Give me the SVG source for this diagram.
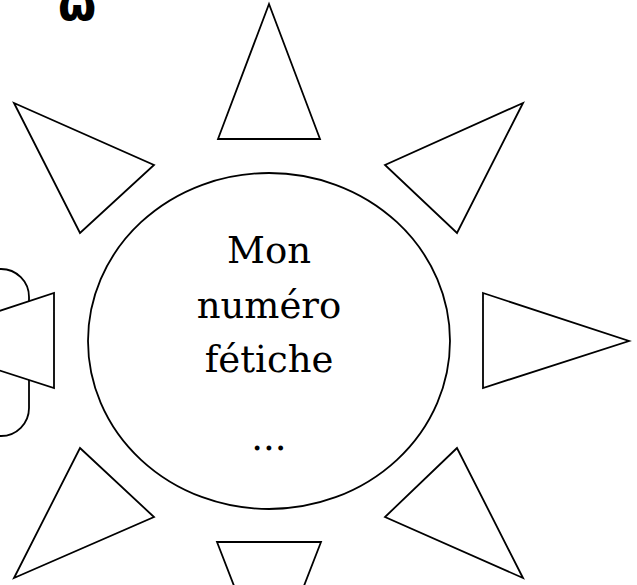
<svg xmlns="http://www.w3.org/2000/svg" width="637" height="585" viewBox="0 0 637 585">
<style>
.s{fill:#fff;stroke:#000;stroke-width:1.8;stroke-linejoin:miter}
.t{font-family:"DejaVu Serif",serif;font-size:37px;fill:#000;text-anchor:middle}
</style>
<rect width="637" height="585" fill="#fff"/>
<text x="77" y="20" font-family="DejaVu Sans" font-weight="bold" font-size="44" text-anchor="middle">ω</text>
<g id="left-box"><rect class="s" x="-60" y="269" width="89" height="167" rx="28"/></g>
<g id="tri-top"><polygon class="s" points="269,4 218,139 320,139"/></g>
<g id="tri-tl"><polygon class="s" points="14,103 154,165 80,233"/></g>
<g id="tri-tr"><polygon class="s" points="523,103 385,165 457,233"/></g>
<g id="tri-left"><polygon class="s" points="54,293 54,388 -92,341"/></g>
<g id="tri-right"><polygon class="s" points="483,293 629,341 483,388"/></g>
<g id="tri-bl"><polygon class="s" points="80,448 154,517 14,578"/></g>
<g id="tri-br"><polygon class="s" points="457,448 385,517 523,578"/></g>
<g id="tri-bottom"><polygon class="s" points="217,542 321,542 269,676"/></g>
<g id="center">
<ellipse class="s" cx="269" cy="341" rx="181" ry="168"/>
<text class="t" x="269" y="263">Mon</text>
<text class="t" x="269" y="318">numéro</text>
<text class="t" x="269" y="372">fétiche</text>
<text class="t" x="269" y="450">...</text>
</g>
<g id="connectors"></g>
</svg>
